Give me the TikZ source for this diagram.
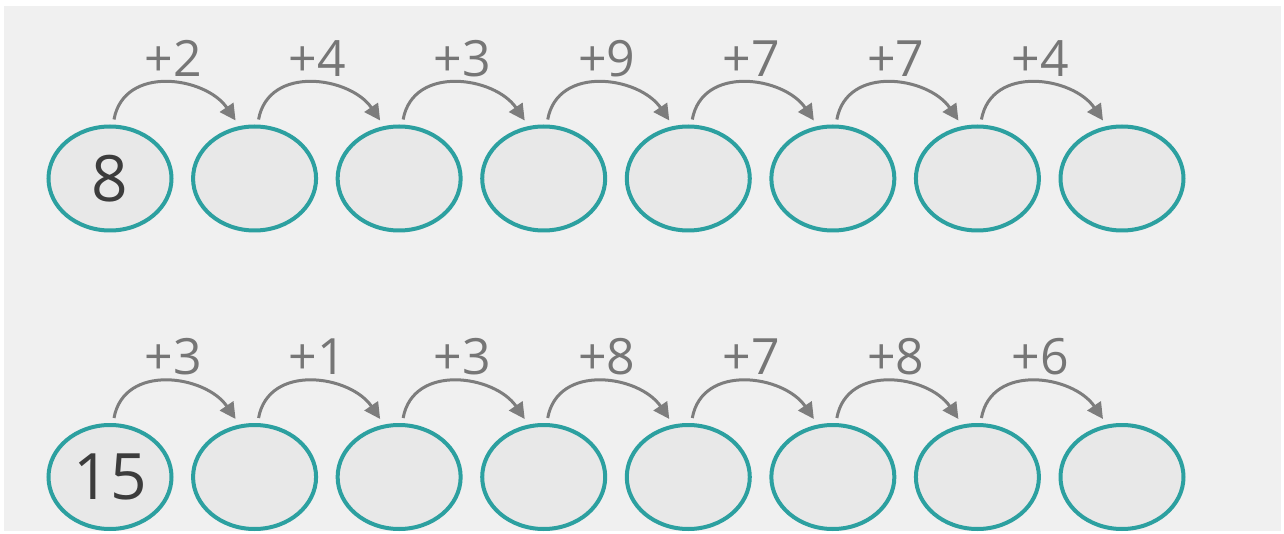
\documentclass[tikz,border=0pt]{standalone}
\usepackage{fontspec}
\setmainfont{Open Sans}
\usetikzlibrary{shapes.geometric,arrows.meta}
\definecolor{tealc}{RGB}{44,160,160}
\definecolor{bgc}{RGB}{240,240,240}
\definecolor{fillc}{RGB}{232,232,232}
\definecolor{arrc}{RGB}{125,125,125}
\definecolor{lblc}{RGB}{118,118,118}
\definecolor{numc}{RGB}{60,60,60}
\tikzset{
  circ/.style={ellipse, draw=tealc, line width=4pt, fill=fillc, minimum width=123pt, minimum height=104pt, inner sep=0pt},
  arr/.style={draw=arrc, line width=3pt, -{Triangle[length=16pt,width=16pt]}},
  lbl/.style={text=lblc, font=\fontsize{50}{56}\selectfont, inner sep=0pt},
  num/.style={text=numc, font=\fontsize{64}{70}\selectfont}
}
\begin{document}
\begin{tikzpicture}[x=1pt,y=-1pt]
\useasboundingbox (0,0) rectangle (1284,534);
\fill[bgc] (4,6) rectangle (1281,531);
% top row
\node[circ,num] (a1) at (110,178.5) {8};
\foreach \i in {2,...,8} \node[circ] (a\i) at ({110+(\i-1)*144.57},178.5) {};
% bottom row
\node[circ,num] (b1) at (110,477) {15};
\foreach \i in {2,...,8} \node[circ] (b\i) at ({110+(\i-1)*144.57},477) {};
% arrows and labels top
\foreach \i/\j/\l in {1/2/+2,2/3/+4,3/4/+3,4/5/+9,5/6/+7,6/7/+7,7/8/+4} {
  \draw[arr] ([xshift=4pt,yshift=5pt]a\i.north) .. controls +(10,-55) and +(-30,-44) .. ([xshift=-19pt,yshift=4pt]a\j.north);
  \node[lbl] (la\i) at ([xshift=63pt,yshift=120pt]a\i.center) {\l};
}
% arrows and labels bottom
\foreach \i/\j/\l in {1/2/+3,2/3/+1,3/4/+3,4/5/+8,5/6/+7,6/7/+8,7/8/+6} {
  \draw[arr] ([xshift=4pt,yshift=5pt]b\i.north) .. controls +(10,-55) and +(-30,-44) .. ([xshift=-19pt,yshift=4pt]b\j.north);
  \node[lbl] (lb\i) at ([xshift=63pt,yshift=120pt]b\i.center) {\l};
}
\end{tikzpicture}
\end{document}
